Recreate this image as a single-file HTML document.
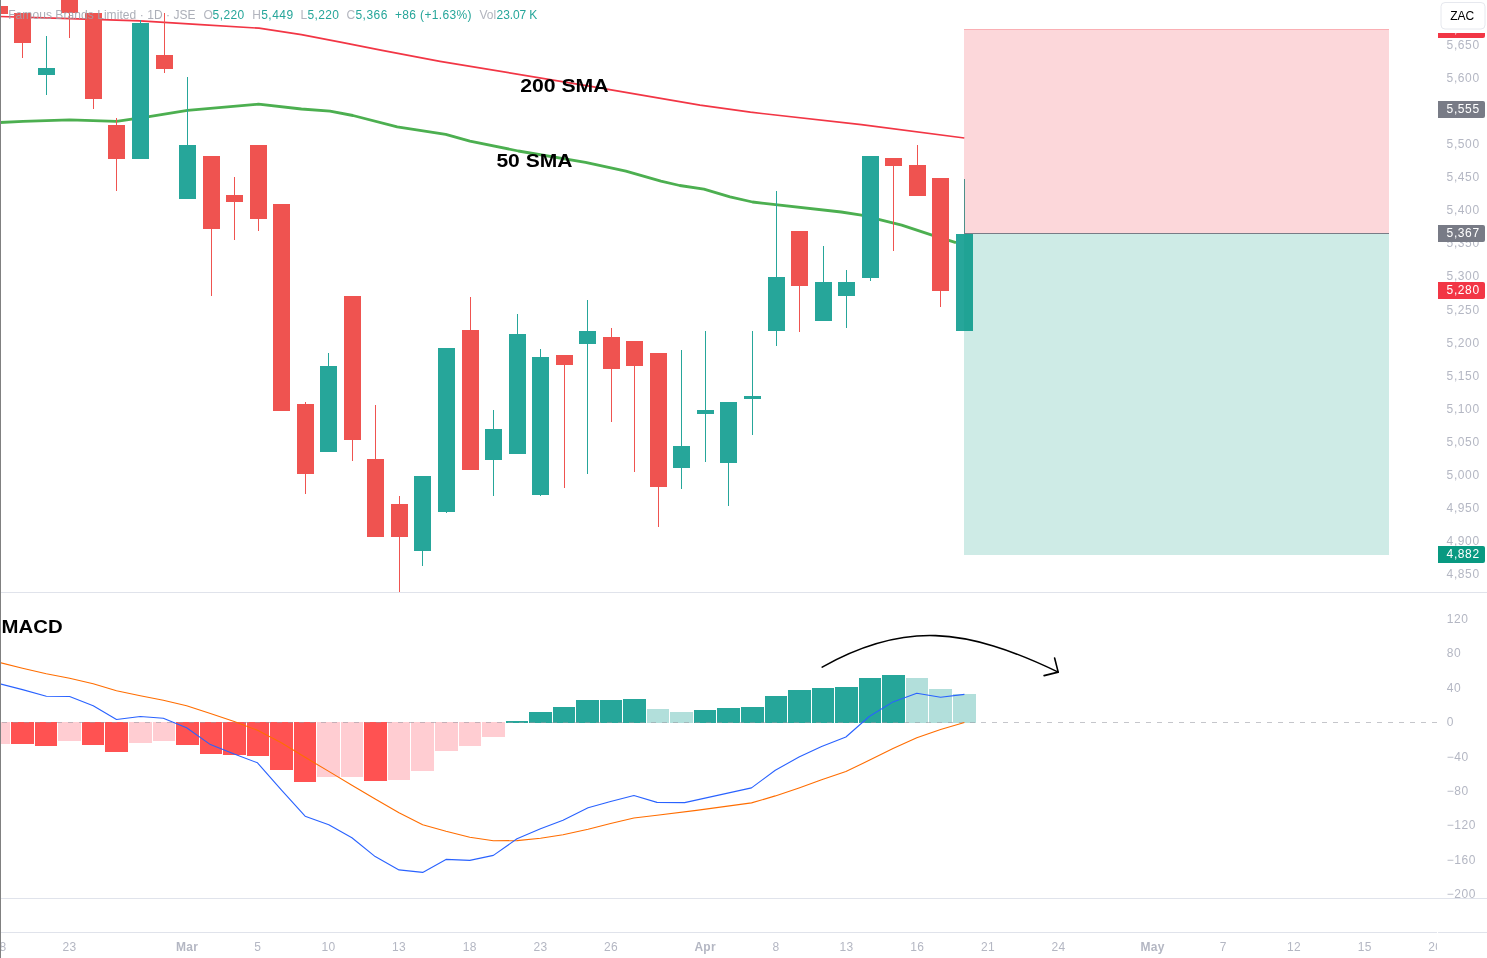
<!DOCTYPE html>
<html><head><meta charset="utf-8"><title>Famous Brands Limited chart</title>
<style>
html,body{margin:0;padding:0;background:#fff;}
body{width:1487px;height:958px;overflow:hidden;}
svg{display:block;font-family:"Liberation Sans",sans-serif;}
.ax{font-size:12px;fill:#b4b7c3;letter-spacing:.5px}
.tm{font-size:12px;fill:#b4b7c3;text-anchor:middle;letter-spacing:.3px}
.lb{font-size:12px;fill:#fff;letter-spacing:.5px}
.lg{font-size:12px;}
.bt{font-weight:bold;fill:#000;}
</style></head><body>
<svg width="1487" height="958" viewBox="0 0 1487 958">
<rect width="1487" height="958" fill="#fff"/>

<g shape-rendering="crispEdges">
<rect x="0" y="592" width="1487" height="1" fill="#e0e3eb"/>
<rect x="0" y="898" width="1487" height="1" fill="#e0e3eb"/>
<rect x="0" y="932" width="1487" height="1" fill="#e0e3eb"/>
<rect x="1437" y="932" width="1" height="1" fill="#fff"/>
</g>
<polyline points="0.0,16.5 70.0,18.6 140.0,20.8 200.5,24.6 259.0,28.2 301.4,34.7 341.7,42.4 382.1,50.4 440.0,61.3 589.3,86.2 700.0,105.1 750.4,112.2 861.4,124.7 964.3,138.0" fill="none" stroke="#f23645" stroke-width="1.7" stroke-linejoin="round"/>
<polyline points="0.0,122.5 23.0,121.3 69.6,119.9 116.5,121.3 149.0,116.6 187.5,110.3 258.5,104.2 301.4,109.0 330.0,111.2 352.9,115.5 397.2,126.8 445.7,134.4 469.9,141.1 518.3,151.0 585.5,162.3 625.9,171.2 660.9,181.2 679.7,185.5 703.9,189.2 730.0,196.8 752.5,202.0 841.2,212.0 861.4,215.1 901.7,225.2 932.0,235.2 956.0,242.7" fill="none" stroke="#4caf50" stroke-width="2.8" stroke-linejoin="round"/>
<g shape-rendering="crispEdges">
<rect x="-1" y="6" width="1" height="7.5" fill="#ef5350"/>
<rect x="-9" y="6" width="17" height="7.5" fill="#ef5350"/>
<rect x="22" y="13" width="1" height="45.0" fill="#ef5350"/>
<rect x="14" y="13" width="17" height="30.0" fill="#ef5350"/>
<rect x="46" y="36" width="1" height="59.0" fill="#26a69a"/>
<rect x="38" y="68" width="17" height="7.0" fill="#26a69a"/>
<rect x="69" y="0" width="1" height="38.0" fill="#ef5350"/>
<rect x="61" y="0" width="17" height="12.5" fill="#ef5350"/>
<rect x="93" y="13" width="1" height="96.0" fill="#ef5350"/>
<rect x="85" y="13" width="17" height="86.0" fill="#ef5350"/>
<rect x="116" y="118" width="1" height="73.0" fill="#ef5350"/>
<rect x="108" y="125" width="17" height="34.0" fill="#ef5350"/>
<rect x="140" y="20" width="1" height="139.0" fill="#26a69a"/>
<rect x="132" y="23" width="17" height="136.0" fill="#26a69a"/>
<rect x="164" y="13" width="1" height="60.0" fill="#ef5350"/>
<rect x="156" y="55" width="17" height="14.0" fill="#ef5350"/>
<rect x="187" y="77" width="1" height="122.0" fill="#26a69a"/>
<rect x="179" y="145" width="17" height="54.0" fill="#26a69a"/>
<rect x="211" y="156" width="1" height="140.0" fill="#ef5350"/>
<rect x="203" y="156" width="17" height="73.0" fill="#ef5350"/>
<rect x="234" y="177" width="1" height="63.0" fill="#ef5350"/>
<rect x="226" y="195" width="17" height="7.0" fill="#ef5350"/>
<rect x="258" y="145" width="1" height="86.0" fill="#ef5350"/>
<rect x="250" y="145" width="17" height="74.0" fill="#ef5350"/>
<rect x="281" y="204" width="1" height="207.0" fill="#ef5350"/>
<rect x="273" y="204" width="17" height="207.0" fill="#ef5350"/>
<rect x="305" y="402" width="1" height="92.0" fill="#ef5350"/>
<rect x="297" y="404" width="17" height="70.0" fill="#ef5350"/>
<rect x="328" y="353" width="1" height="99.0" fill="#26a69a"/>
<rect x="320" y="366" width="17" height="86.0" fill="#26a69a"/>
<rect x="352" y="296" width="1" height="165.0" fill="#ef5350"/>
<rect x="344" y="296" width="17" height="144.0" fill="#ef5350"/>
<rect x="375" y="405" width="1" height="132.0" fill="#ef5350"/>
<rect x="367" y="459" width="17" height="78.0" fill="#ef5350"/>
<rect x="399" y="496" width="1" height="96.0" fill="#ef5350"/>
<rect x="391" y="504" width="17" height="33.0" fill="#ef5350"/>
<rect x="422" y="476" width="1" height="90.0" fill="#26a69a"/>
<rect x="414" y="476" width="17" height="75.0" fill="#26a69a"/>
<rect x="446" y="348" width="1" height="165.0" fill="#26a69a"/>
<rect x="438" y="348" width="17" height="164.0" fill="#26a69a"/>
<rect x="470" y="297" width="1" height="173.0" fill="#ef5350"/>
<rect x="462" y="330" width="17" height="140.0" fill="#ef5350"/>
<rect x="493" y="410" width="1" height="86.0" fill="#26a69a"/>
<rect x="485" y="429" width="17" height="31.0" fill="#26a69a"/>
<rect x="517" y="314" width="1" height="140.0" fill="#26a69a"/>
<rect x="509" y="334" width="17" height="120.0" fill="#26a69a"/>
<rect x="540" y="349" width="1" height="147.0" fill="#26a69a"/>
<rect x="532" y="357" width="17" height="138.0" fill="#26a69a"/>
<rect x="564" y="355" width="1" height="133.0" fill="#ef5350"/>
<rect x="556" y="355" width="17" height="10.0" fill="#ef5350"/>
<rect x="587" y="300" width="1" height="174.0" fill="#26a69a"/>
<rect x="579" y="331" width="17" height="13.0" fill="#26a69a"/>
<rect x="611" y="328" width="1" height="94.0" fill="#ef5350"/>
<rect x="603" y="337" width="17" height="32.0" fill="#ef5350"/>
<rect x="634" y="341" width="1" height="131.0" fill="#ef5350"/>
<rect x="626" y="341" width="17" height="25.0" fill="#ef5350"/>
<rect x="658" y="353" width="1" height="174.0" fill="#ef5350"/>
<rect x="650" y="353" width="17" height="134.0" fill="#ef5350"/>
<rect x="681" y="350" width="1" height="139.0" fill="#26a69a"/>
<rect x="673" y="446" width="17" height="22.0" fill="#26a69a"/>
<rect x="705" y="331" width="1" height="131.0" fill="#26a69a"/>
<rect x="697" y="410" width="17" height="4.0" fill="#26a69a"/>
<rect x="728" y="402" width="1" height="104.0" fill="#26a69a"/>
<rect x="720" y="402" width="17" height="61.0" fill="#26a69a"/>
<rect x="752" y="331" width="1" height="104.0" fill="#26a69a"/>
<rect x="744" y="396" width="17" height="3.0" fill="#26a69a"/>
<rect x="776" y="191" width="1" height="155.0" fill="#26a69a"/>
<rect x="768" y="277" width="17" height="54.0" fill="#26a69a"/>
<rect x="799" y="231" width="1" height="101.0" fill="#ef5350"/>
<rect x="791" y="231" width="17" height="55.0" fill="#ef5350"/>
<rect x="823" y="246" width="1" height="75.0" fill="#26a69a"/>
<rect x="815" y="282" width="17" height="39.0" fill="#26a69a"/>
<rect x="846" y="270" width="1" height="58.0" fill="#26a69a"/>
<rect x="838" y="282" width="17" height="14.0" fill="#26a69a"/>
<rect x="870" y="156" width="1" height="125.0" fill="#26a69a"/>
<rect x="862" y="156" width="17" height="122.0" fill="#26a69a"/>
<rect x="893" y="158" width="1" height="93.0" fill="#ef5350"/>
<rect x="885" y="158" width="17" height="8.0" fill="#ef5350"/>
<rect x="917" y="145" width="1" height="51.0" fill="#ef5350"/>
<rect x="909" y="165" width="17" height="31.0" fill="#ef5350"/>
<rect x="940" y="178" width="1" height="129.0" fill="#ef5350"/>
<rect x="932" y="178" width="17" height="113.0" fill="#ef5350"/>
<rect x="964" y="179" width="1" height="152.0" fill="#26a69a"/>
<rect x="956" y="234" width="17" height="97.0" fill="#26a69a"/>
</g>
<g shape-rendering="crispEdges">
<rect x="964" y="29" width="425" height="204.5" fill="#f23645" fill-opacity="0.2"/>
<rect x="964" y="233.5" width="425" height="321" fill="#089981" fill-opacity="0.2"/>
<rect x="964" y="29" width="425" height="1" fill="#f23645" fill-opacity="0.25"/>
<rect x="964" y="233" width="425" height="1" fill="#787b86"/>
</g>
<g shape-rendering="crispEdges">
<rect x="-12" y="722.0" width="22" height="21.6" fill="#ffcdd2"/>
<rect x="11" y="722.0" width="23" height="21.6" fill="#ff5252"/>
<rect x="35" y="722.0" width="22" height="23.8" fill="#ff5252"/>
<rect x="58" y="722.0" width="23" height="18.6" fill="#ffcdd2"/>
<rect x="82" y="722.0" width="22" height="22.6" fill="#ff5252"/>
<rect x="105" y="722.0" width="23" height="29.6" fill="#ff5252"/>
<rect x="129" y="722.0" width="23" height="20.6" fill="#ffcdd2"/>
<rect x="153" y="722.0" width="22" height="18.6" fill="#ffcdd2"/>
<rect x="176" y="722.0" width="23" height="22.6" fill="#ff5252"/>
<rect x="200" y="722.0" width="22" height="31.8" fill="#ff5252"/>
<rect x="223" y="722.0" width="23" height="32.8" fill="#ff5252"/>
<rect x="247" y="722.0" width="22" height="33.6" fill="#ff5252"/>
<rect x="270" y="722.0" width="23" height="47.6" fill="#ff5252"/>
<rect x="294" y="722.0" width="22" height="59.7" fill="#ff5252"/>
<rect x="317" y="722.0" width="23" height="54.7" fill="#ffcdd2"/>
<rect x="341" y="722.0" width="22" height="54.7" fill="#ffcdd2"/>
<rect x="364" y="722.0" width="23" height="58.7" fill="#ff5252"/>
<rect x="388" y="722.0" width="22" height="57.7" fill="#ffcdd2"/>
<rect x="411" y="722.0" width="23" height="48.7" fill="#ffcdd2"/>
<rect x="435" y="722.0" width="23" height="28.6" fill="#ffcdd2"/>
<rect x="459" y="722.0" width="22" height="23.6" fill="#ffcdd2"/>
<rect x="482" y="722.0" width="23" height="14.9" fill="#ffcdd2"/>
<rect x="506" y="720.8" width="22" height="2.2" fill="#26a69a"/>
<rect x="529" y="712.1" width="23" height="10.9" fill="#26a69a"/>
<rect x="553" y="707.1" width="22" height="15.9" fill="#26a69a"/>
<rect x="576" y="700.0" width="23" height="23.0" fill="#26a69a"/>
<rect x="600" y="700.0" width="22" height="23.0" fill="#26a69a"/>
<rect x="623" y="699.0" width="23" height="24.0" fill="#26a69a"/>
<rect x="647" y="709.0" width="22" height="14.0" fill="#b2dfdb"/>
<rect x="670" y="712.0" width="23" height="11.0" fill="#b2dfdb"/>
<rect x="694" y="710.0" width="22" height="13.0" fill="#26a69a"/>
<rect x="717" y="708.0" width="23" height="15.0" fill="#26a69a"/>
<rect x="741" y="706.9" width="23" height="16.1" fill="#26a69a"/>
<rect x="765" y="695.9" width="22" height="27.1" fill="#26a69a"/>
<rect x="788" y="689.9" width="23" height="33.1" fill="#26a69a"/>
<rect x="812" y="687.9" width="22" height="35.1" fill="#26a69a"/>
<rect x="835" y="686.9" width="23" height="36.1" fill="#26a69a"/>
<rect x="859" y="677.9" width="22" height="45.1" fill="#26a69a"/>
<rect x="882" y="674.9" width="23" height="48.1" fill="#26a69a"/>
<rect x="906" y="677.9" width="22" height="45.1" fill="#b2dfdb"/>
<rect x="929" y="688.9" width="23" height="34.1" fill="#b2dfdb"/>
<rect x="953" y="693.9" width="23" height="29.1" fill="#b2dfdb"/>
</g>
<line x1="2" y1="722.5" x2="1437" y2="722.5" stroke="#9598a1" stroke-opacity="0.55" stroke-width="1" stroke-dasharray="5 6" shape-rendering="crispEdges"/>
<polyline points="0.0,662.6 22.5,668.2 46.3,673.7 69.6,678.2 93.2,683.7 116.5,690.7 140.3,695.7 163.3,700.2 186.6,705.7 210.4,713.5 234.2,721.5 257.5,730.3 281.3,742.8 305.1,757.3 328.8,771.4 351.9,785.2 375.2,799.0 399.0,812.8 422.7,824.8 446.0,831.3 469.8,837.3 493.4,840.8 517.0,840.6 540.5,838.3 563.0,834.8 588.1,829.3 610.6,823.5 633.9,818.0 657.0,815.3 696.4,810.4 751.5,802.9 775.3,795.9 799.0,787.9 821.6,779.8 845.9,771.6 869.2,760.3 893.0,748.5 916.8,737.8 940.6,729.5 964.4,722.5" fill="none" stroke="#ff6d00" stroke-width="1.1" stroke-linejoin="round"/>
<polyline points="0.0,683.9 22.5,689.6 46.3,696.2 69.6,696.5 93.2,705.7 116.5,719.5 140.3,716.5 163.3,718.3 186.6,727.8 210.4,744.6 234.2,754.1 257.5,762.8 281.3,789.9 305.1,816.2 328.8,824.8 351.9,837.8 375.2,856.6 399.0,869.9 422.7,872.4 446.0,859.4 469.8,860.4 493.4,855.4 517.0,838.8 540.5,828.8 563.0,820.3 588.1,807.8 610.6,801.5 633.9,795.5 657.0,802.4 684.6,802.6 751.5,787.9 775.3,770.3 799.0,757.0 821.6,746.5 845.9,737.0 869.2,716.5 893.0,701.9 916.8,693.2 940.6,697.2 964.4,694.4" fill="none" stroke="#2962ff" stroke-width="1.1" stroke-linejoin="round"/>
<path d="M822.2,667.1 C903.5,621.5 964.8,627.2 1058.2,672.1" fill="none" stroke="#000" stroke-width="1.6" stroke-linecap="round"/>
<path d="M1054.6,658 L1058.2,672.1 L1044.1,675.6" fill="none" stroke="#000" stroke-width="1.6" stroke-linecap="round" stroke-linejoin="round"/>
<rect x="0" y="0" width="1" height="958" fill="#808080" shape-rendering="crispEdges"/>
<text transform="translate(520.2,92.4) scale(1.14,1)" class="bt" font-size="18.6">200 SMA</text>
<text transform="translate(496.4,166.5) scale(1.132,1)" class="bt" font-size="18.6">50 SMA</text>
<text transform="translate(1.6,632.9) scale(1.06,1)" class="bt" font-size="19.2">MACD</text>
<text x="8.2" y="18.8" class="lg" fill="#9da1ac" fill-opacity="0.85" textLength="187.4" lengthAdjust="spacing">Famous Brands Limited · 1D · JSE</text>
<text x="203.6" y="18.8" class="lg" fill="#b2b5be" fill-opacity="1" textLength="9" lengthAdjust="spacing">O</text>
<text x="212.6" y="18.8" class="lg" fill="#26a69a" fill-opacity="1" textLength="31.6" lengthAdjust="spacing">5,220</text>
<text x="252.2" y="18.8" class="lg" fill="#b2b5be" fill-opacity="1" textLength="8.6" lengthAdjust="spacing">H</text>
<text x="261.2" y="18.8" class="lg" fill="#26a69a" fill-opacity="1" textLength="32" lengthAdjust="spacing">5,449</text>
<text x="300.6" y="18.8" class="lg" fill="#b2b5be" fill-opacity="1" textLength="6.6" lengthAdjust="spacing">L</text>
<text x="307.4" y="18.8" class="lg" fill="#26a69a" fill-opacity="1" textLength="31.6" lengthAdjust="spacing">5,220</text>
<text x="346.4" y="18.8" class="lg" fill="#b2b5be" fill-opacity="1" textLength="8.6" lengthAdjust="spacing">C</text>
<text x="355.4" y="18.8" class="lg" fill="#26a69a" fill-opacity="1" textLength="32" lengthAdjust="spacing">5,366</text>
<text x="395" y="18.8" class="lg" fill="#26a69a" fill-opacity="1" textLength="76.5" lengthAdjust="spacing">+86 (+1.63%)</text>
<text x="479.4" y="18.8" class="lg" fill="#b2b5be" fill-opacity="1" textLength="16.8" lengthAdjust="spacing">Vol</text>
<text x="496.6" y="18.8" class="lg" fill="#26a69a" fill-opacity="1" textLength="40.6" lengthAdjust="spacing">23.07 K</text>
<text x="1446.6" y="49.1" class="ax" textLength="33">5,650</text>
<text x="1446.6" y="82.1" class="ax" textLength="33">5,600</text>
<text x="1446.6" y="115.2" class="ax" textLength="33">5,550</text>
<text x="1446.6" y="148.2" class="ax" textLength="33">5,500</text>
<text x="1446.6" y="181.3" class="ax" textLength="33">5,450</text>
<text x="1446.6" y="214.4" class="ax" textLength="33">5,400</text>
<text x="1446.6" y="247.4" class="ax" textLength="33">5,350</text>
<text x="1446.6" y="280.4" class="ax" textLength="33">5,300</text>
<text x="1446.6" y="313.5" class="ax" textLength="33">5,250</text>
<text x="1446.6" y="346.6" class="ax" textLength="33">5,200</text>
<text x="1446.6" y="379.6" class="ax" textLength="33">5,150</text>
<text x="1446.6" y="412.6" class="ax" textLength="33">5,100</text>
<text x="1446.6" y="445.7" class="ax" textLength="33">5,050</text>
<text x="1446.6" y="478.8" class="ax" textLength="33">5,000</text>
<text x="1446.6" y="511.8" class="ax" textLength="33">4,950</text>
<text x="1446.6" y="544.8" class="ax" textLength="33">4,900</text>
<text x="1446.6" y="577.9" class="ax" textLength="33">4,850</text>
<text x="1446.8" y="622.8" class="ax">120</text>
<text x="1446.8" y="657.2" class="ax">80</text>
<text x="1446.8" y="691.6" class="ax">40</text>
<text x="1446.8" y="726.1" class="ax">0</text>
<text x="1446.8" y="760.5" class="ax">−40</text>
<text x="1446.8" y="794.9" class="ax">−80</text>
<text x="1446.8" y="829.3" class="ax">−120</text>
<text x="1446.8" y="863.7" class="ax">−160</text>
<text x="1446.8" y="898.2" class="ax">−200</text>
<clipPath id="rc"><rect x="1438" y="33" width="47" height="5"/></clipPath><g clip-path="url(#rc)"><rect x="1438" y="21" width="47" height="17" rx="2" fill="#f23645"/><rect x="1438" y="21" width="3" height="17" fill="#f23645"/><text x="1446.6" y="33.2" class="lb" textLength="33">5,675</text></g>
<rect x="1438" y="101" width="47" height="17" rx="2" fill="#787b86"/>
<rect x="1438" y="101" width="3" height="17" fill="#787b86"/>
<text x="1446.6" y="113.2" class="lb" textLength="33">5,555</text>
<rect x="1438" y="225" width="47" height="17" rx="2" fill="#787b86"/>
<rect x="1438" y="225" width="3" height="17" fill="#787b86"/>
<text x="1446.6" y="237.2" class="lb" textLength="33">5,367</text>
<rect x="1438" y="282" width="47" height="17" rx="2" fill="#f23645"/>
<rect x="1438" y="282" width="3" height="17" fill="#f23645"/>
<text x="1446.6" y="294.2" class="lb" textLength="33">5,280</text>
<rect x="1438" y="546" width="47" height="17" rx="2" fill="#089981"/>
<rect x="1438" y="546" width="3" height="17" fill="#089981"/>
<text x="1446.6" y="558.2" class="lb" textLength="33">4,882</text>
<rect x="1441" y="2.5" width="44" height="26.5" rx="4" fill="#fff" stroke="#e6e8ee"/>
<text x="1462.2" y="19.9" font-size="12" fill="#000" text-anchor="middle" letter-spacing="0">ZAC</text>
<clipPath id="tc"><rect x="1" y="933" width="1436" height="25"/></clipPath><g clip-path="url(#tc)">
<text x="-0.4" y="951" class="tm">18</text>
<text x="69.4" y="951" class="tm">23</text>
<text x="187.2" y="951" class="tm" font-weight="bold">Mar</text>
<text x="257.8" y="951" class="tm">5</text>
<text x="328.5" y="951" class="tm">10</text>
<text x="399.1" y="951" class="tm">13</text>
<text x="469.8" y="951" class="tm">18</text>
<text x="540.4" y="951" class="tm">23</text>
<text x="611.0" y="951" class="tm">26</text>
<text x="705.2" y="951" class="tm" font-weight="bold">Apr</text>
<text x="775.9" y="951" class="tm">8</text>
<text x="846.5" y="951" class="tm">13</text>
<text x="917.2" y="951" class="tm">16</text>
<text x="987.9" y="951" class="tm">21</text>
<text x="1058.5" y="951" class="tm">24</text>
<text x="1152.7" y="951" class="tm" font-weight="bold">May</text>
<text x="1223.3" y="951" class="tm">7</text>
<text x="1294.0" y="951" class="tm">12</text>
<text x="1364.7" y="951" class="tm">15</text>
<text x="1435.3" y="951" class="tm">20</text>
</g>
</svg></body></html>
